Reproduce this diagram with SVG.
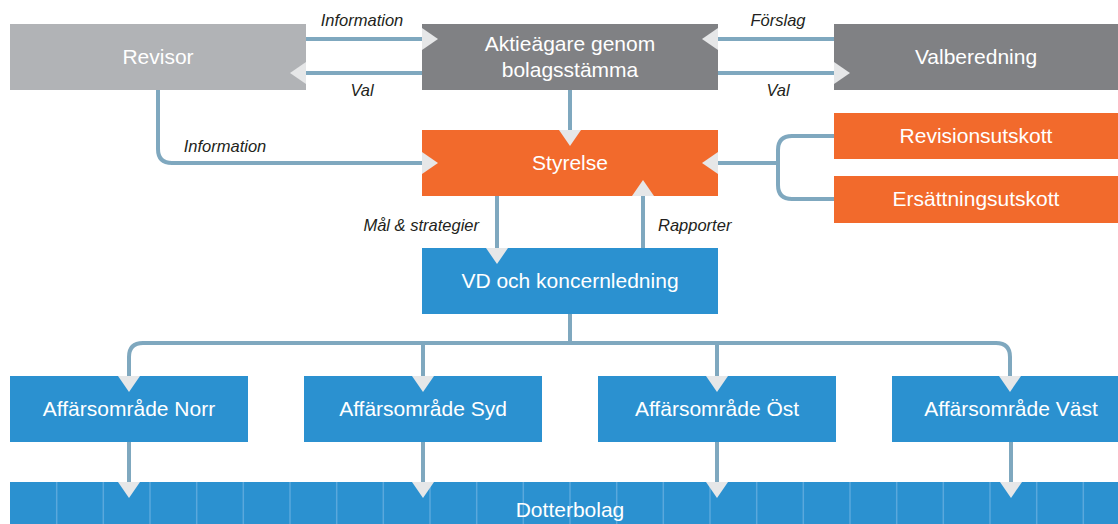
<svg xmlns="http://www.w3.org/2000/svg" width="1118" height="524" viewBox="0 0 1118 524">
<defs>
<style>
.lg{fill:#b1b3b6}.dg{fill:#808184}.or{fill:#f26a2c}.bl{fill:#2b91d0}
.t{font-family:"Liberation Sans",Arial,sans-serif;font-size:21px;fill:#ffffff;text-anchor:middle}
.l{font-family:"Liberation Sans",Arial,sans-serif;font-size:16.5px;font-style:italic;fill:#231f20;text-anchor:middle}
.c{fill:none;stroke:#7fa8bf;stroke-width:4}
.sep{stroke:#5aa8dc;stroke-width:1.5}
</style>
<marker id="ah" viewBox="0 0 16 22" refX="0" refY="11" markerWidth="16" markerHeight="22" markerUnits="userSpaceOnUse" orient="auto">
<path d="M0,0 L16,11 L0,22 Z" fill="#e6e7e8"/>
</marker>
</defs>

<g id="revisor"><rect class="lg" x="10" y="24" width="296" height="66"/><text class="t" x="158" y="64">Revisor</text></g>
<g id="aktieagare"><rect class="dg" x="422" y="24" width="296" height="66"/><text class="t" x="570" y="51">Aktieägare genom</text><text class="t" x="570" y="77">bolagsstämma</text></g>
<g id="valberedning"><rect class="dg" x="834" y="24" width="296" height="66"/><text class="t" x="976" y="64">Valberedning</text></g>
<g id="styrelse"><rect class="or" x="422" y="130" width="296" height="66"/><text class="t" x="570" y="170">Styrelse</text></g>
<g id="revisionsutskott"><rect class="or" x="834" y="113" width="296" height="46"/><text class="t" x="976" y="143">Revisionsutskott</text></g>
<g id="ersattningsutskott"><rect class="or" x="834" y="176" width="296" height="47"/><text class="t" x="976" y="206">Ersättningsutskott</text></g>
<g id="vd"><rect class="bl" x="422" y="248" width="296" height="66"/><text class="t" x="570" y="288">VD och koncernledning</text></g>
<g id="norr"><rect class="bl" x="10" y="376" width="238" height="66"/><text class="t" x="129" y="416">Affärsområde Norr</text></g>
<g id="syd"><rect class="bl" x="304" y="376" width="238" height="66"/><text class="t" x="423" y="416">Affärsområde Syd</text></g>
<g id="ost"><rect class="bl" x="598" y="376" width="238" height="66"/><text class="t" x="717" y="416">Affärsområde Öst</text></g>
<g id="vast"><rect class="bl" x="892" y="376" width="238" height="66"/><text class="t" x="1011" y="416">Affärsområde Väst</text></g>
<g id="dotterbolag">
<rect class="bl" x="10" y="482" width="1120" height="42"/>
<g class="sep">
<line x1="56.7" y1="482" x2="56.7" y2="524"/><line x1="103.3" y1="482" x2="103.3" y2="524"/><line x1="150" y1="482" x2="150" y2="524"/><line x1="196.7" y1="482" x2="196.7" y2="524"/><line x1="243.3" y1="482" x2="243.3" y2="524"/><line x1="290" y1="482" x2="290" y2="524"/><line x1="336.7" y1="482" x2="336.7" y2="524"/><line x1="383.3" y1="482" x2="383.3" y2="524"/><line x1="430" y1="482" x2="430" y2="524"/><line x1="476.7" y1="482" x2="476.7" y2="524"/><line x1="523.3" y1="482" x2="523.3" y2="524"/><line x1="570" y1="482" x2="570" y2="524"/><line x1="616.7" y1="482" x2="616.7" y2="524"/><line x1="663.3" y1="482" x2="663.3" y2="524"/><line x1="710" y1="482" x2="710" y2="524"/><line x1="756.7" y1="482" x2="756.7" y2="524"/><line x1="803.3" y1="482" x2="803.3" y2="524"/><line x1="850" y1="482" x2="850" y2="524"/><line x1="896.7" y1="482" x2="896.7" y2="524"/><line x1="943.3" y1="482" x2="943.3" y2="524"/><line x1="990" y1="482" x2="990" y2="524"/><line x1="1036.7" y1="482" x2="1036.7" y2="524"/><line x1="1083.3" y1="482" x2="1083.3" y2="524"/>
</g>
<text class="t" x="570" y="517">Dotterbolag</text>
</g>

<g id="connectors">
<path class="c" d="M306,39 H422" marker-end="url(#ah)"/>
<path class="c" d="M422,73 H306" marker-end="url(#ah)"/>
<path class="c" d="M834,39 H718" marker-end="url(#ah)"/>
<path class="c" d="M718,73 H834" marker-end="url(#ah)"/>
<path class="c" d="M570,90 V130" marker-end="url(#ah)"/>
<path class="c" d="M158,90 V149 Q158,163 172,163 H422" marker-end="url(#ah)"/>
<path class="c" d="M834,136 H792 Q778,136 778,150 V185 Q778,199 792,199 H834"/>
<path class="c" d="M778,163 H718" marker-end="url(#ah)"/>
<path class="c" d="M497,196 V248" marker-end="url(#ah)"/>
<path class="c" d="M643,248 V196" marker-end="url(#ah)"/>
<path class="c" d="M570,314 V343"/>
<path class="c" d="M129,376 V357 Q129,343 143,343 H996 Q1010,343 1010,357 V376" marker-end="url(#ah)"/>
<path class="c" d="M129,360 V376" marker-end="url(#ah)"/>
<path class="c" d="M423,343 V376" marker-end="url(#ah)"/>
<path class="c" d="M717,343 V376" marker-end="url(#ah)"/>
<path class="c" d="M129,442 V482" marker-end="url(#ah)"/>
<path class="c" d="M423,442 V482" marker-end="url(#ah)"/>
<path class="c" d="M717,442 V482" marker-end="url(#ah)"/>
<path class="c" d="M1011,442 V482" marker-end="url(#ah)"/>
<text class="l" x="362" y="26">Information</text>
<text class="l" x="362" y="96">Val</text>
<text class="l" x="778" y="26">Förslag</text>
<text class="l" x="778" y="96">Val</text>
<text class="l" x="225" y="152">Information</text>
<text class="l" x="479" y="231" style="text-anchor:end">Mål &amp; strategier</text>
<text class="l" x="658" y="231" style="text-anchor:start">Rapporter</text>
</g>
</svg>
